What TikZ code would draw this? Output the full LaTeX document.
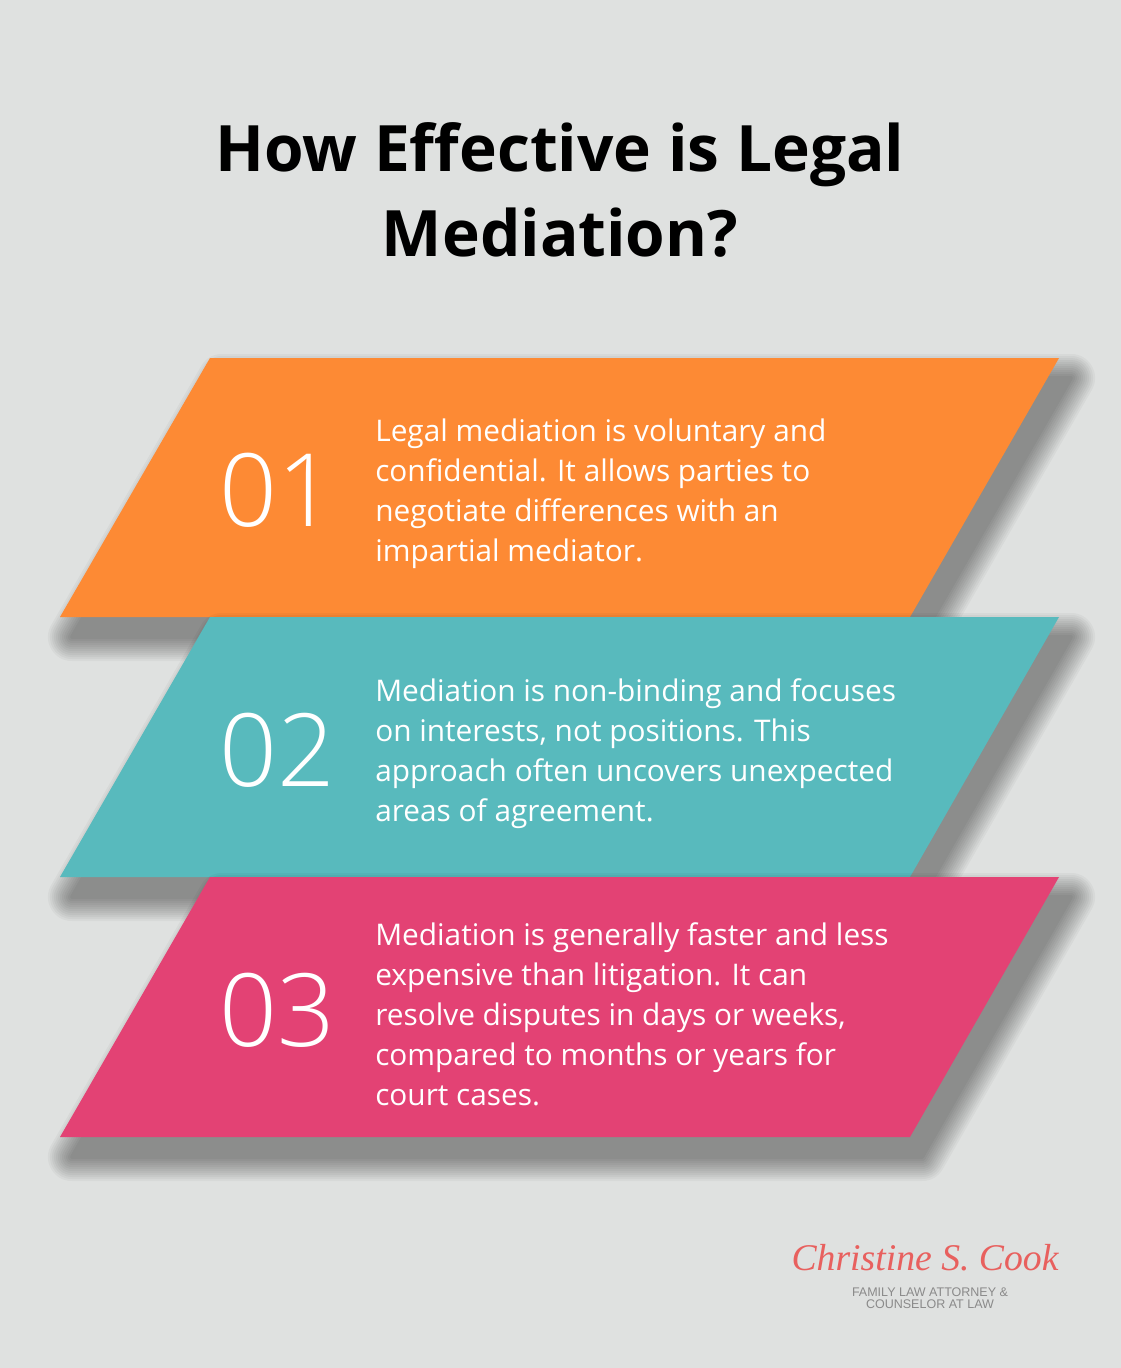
\documentclass[tikz,border=0pt]{standalone}
\usepackage{fontspec}
\setmainfont{Open Sans}
\newfontfamily\numfont{Open Sans Light}
\newfontfamily\namefont{Liberation Serif}
\newfontfamily\tagfont{Liberation Sans}
\usepackage{tikz}
\definecolor{bgcol}{HTML}{DFE1E0}
\definecolor{orangeband}{HTML}{FD8A34}
\definecolor{tealband}{HTML}{58BABD}
\definecolor{pinkband}{HTML}{E34274}
\definecolor{logored}{HTML}{E8605E}
\definecolor{loggrey}{HTML}{8A8A8A}
% soft shadow under a band
\newcommand{\bandshadow}[1]{%
  \foreach \r [evaluate=\r as \lw using \r*1.4226] in {2,4,...,24}{
    \begin{scope}[transparency group, opacity=0.035]
      \filldraw[black, line width=\lw pt, line join=round, shift={(12,20)}] #1;
    \end{scope}
  }
}

\begin{document}
\begin{tikzpicture}[x=0.025cm, y=-0.025cm,
  num/.style={anchor=west, inner sep=0pt, text=white, font=\numfont\fontsize{72}{72}\selectfont},
  body/.style={anchor=west, inner sep=0pt, text=white, align=left, font=\fontsize{21.2}{28.45}\selectfont}]
\useasboundingbox (0,0) rectangle (1120,1368);
\fill[bgcol] (-10,-10) rectangle (1130,1378);
% title
\node (title) at (560,190) [align=center, font=\fontsize{45.5}{60.5}\selectfont\bfseries] {How Effective is Legal\\Mediation?};
% bands
\bandshadow{(210,358) -- (1059,358) -- (910,617) -- (60,617) -- cycle}
\fill[orangeband] (210,358) -- (1059,358) -- (910,617) -- (60,617) -- cycle;
\node (num1) at (219,490) [num] {01};
\node (text1) at (375,494) [body] {Legal mediation is voluntary and\\confidential. It allows parties to\\negotiate differences with an\\impartial mediator.};
\bandshadow{(210,617) -- (1059,617) -- (910,877) -- (60,877) -- cycle}
\fill[tealband] (210,617) -- (1059,617) -- (910,877) -- (60,877) -- cycle;
\node (num2) at (219,750) [num] {02};
\node (text2) at (375,754) [body] {Mediation is non-binding and focuses\\on interests, not positions. This\\approach often uncovers unexpected\\areas of agreement.};
\bandshadow{(210,877) -- (1059,877) -- (910,1137) -- (60,1137) -- cycle}
\fill[pinkband] (210,877) -- (1059,877) -- (910,1137) -- (60,1137) -- cycle;
\node (num3) at (219,1010) [num] {03};
\node (text3) at (375,1014) [body] {Mediation is generally faster and less\\expensive than litigation. It can\\resolve disputes in days or weeks,\\compared to months or years for\\court cases.};
% logo
\node (logo) at (925,1258) [text=logored, font=\namefont\itshape\fontsize{26.8}{26.8}\selectfont] {Christine S. Cook};
\node (tag) at (930,1298) [align=center, text=loggrey, font=\tagfont\fontsize{8.9}{8.6}\selectfont] {FAMILY LAW ATTORNEY \&\\COUNSELOR AT LAW};
\end{tikzpicture}
\end{document}
